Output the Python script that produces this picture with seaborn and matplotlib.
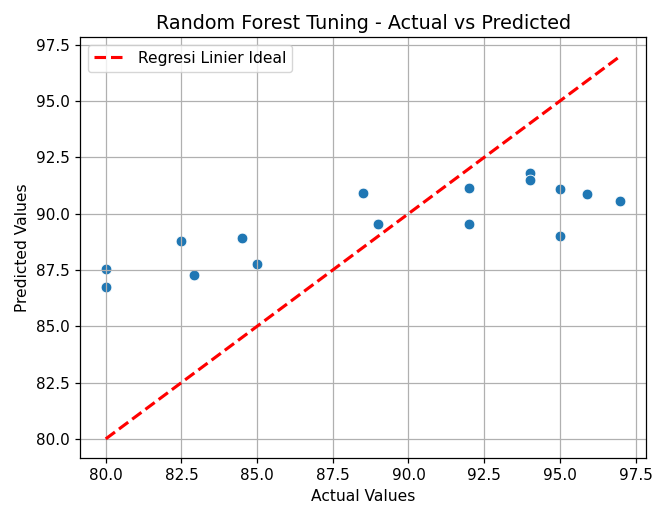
import matplotlib
matplotlib.use("Agg")
import matplotlib.pyplot as plt
import seaborn as sns
import pandas as pd

actual = [80.0, 80.0, 82.5, 82.9, 84.5, 85.0, 88.5, 89.0, 92.0, 92.0, 94.0, 94.0, 95.0, 95.0, 95.9, 97.0]
predicted = [87.56, 86.76, 88.79, 87.26, 88.94, 87.78, 90.92, 89.56, 91.16, 89.56, 91.80, 91.48, 91.09, 89.03, 90.86, 90.55]

title = "Random Forest Tuning - Actual vs Predicted"
xlabel = "Actual Values"
ylabel = "Predicted Values"
line_label = "Regresi Linier Ideal"

k = 1.12
plt.rcParams.update({
    "font.size": 10 * k,
    "axes.linewidth": 0.8 * k,
    "grid.linewidth": 0.8 * k,
    "xtick.major.width": 0.8 * k,
    "ytick.major.width": 0.8 * k,
    "xtick.major.size": 3.5 * k,
    "ytick.major.size": 3.5 * k,
    "xtick.labelsize": 10 * 1.1,
    "ytick.labelsize": 10 * 1.1,
    "legend.fontsize": 10 * k,
})

df = pd.DataFrame({"actual": actual, "predicted": predicted})

fig, ax = plt.subplots(figsize=(6.52, 5.05), dpi=100)
fig.subplots_adjust(left=0.1227, right=0.991, top=0.927, bottom=0.093)

sns.scatterplot(data=df, x="actual", y="predicted", ax=ax, color="#1f77b4", s=60)
lo, hi = min(actual), max(actual)
sns.lineplot(x=[lo, hi], y=[lo, hi], ax=ax, color="red", linestyle="--", linewidth=2 * k, label=line_label)

ax.set_title(title, fontsize=13.8)
ax.set_xlabel(xlabel, fontsize=10 * k)
ax.set_ylabel(ylabel, fontsize=10 * k)
ax.grid(True)
ax.legend(loc="upper left")
fig.savefig("out.png", dpi=100)
